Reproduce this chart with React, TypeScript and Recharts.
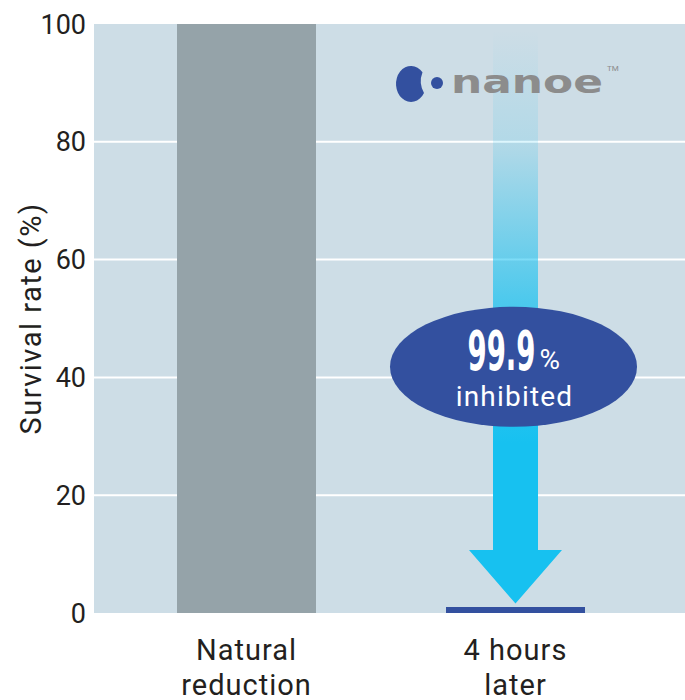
import { BarChart, Bar, Cell, XAxis, YAxis, CartesianGrid, ReferenceLine, ReferenceDot } from 'recharts';

const categories = ['Natural reduction', '4 hours later'];
const survivalRates = [100, 1];
const categoryLines = [
  ['Natural', 'reduction'],
  ['4 hours', 'later'],
];
const barColors = ['#95a3a9', '#33509f'];
const yTicks = [0, 20, 40, 60, 80, 100];
const gridValues = [20, 40, 60, 80];

// annotation anchors (in data units)
const arrowTop = 99;
const arrowTip = 1.6;
const badgeLevel = 41.8;
const logoLevel = 90;

const data = categories.map((name, i) => ({ name, value: survivalRates[i] }));

const FONT = 'Roboto, "Noto Sans", sans-serif';
const TEXT = '#231f20';

function CategoryTick({ x, y, payload }: any) {
  const idx = categories.indexOf(payload.value);
  const lines = categoryLines[idx] ?? [payload.value];
  return (
    <g>
      {lines.map((line, i) => (
        <text
          key={i}
          x={x}
          y={y + 39 + i * 35}
          textAnchor="middle"
          fontFamily={FONT}
          fontSize={29}
          letterSpacing={1}
          fill={TEXT}
        >
          {line}
        </text>
      ))}
    </g>
  );
}

function YLabel({ viewBox }: any) {
  const cx = viewBox.x + 31;
  const cy = viewBox.y + viewBox.height / 2;
  return (
    <text
      x={cx}
      y={cy}
      transform={`rotate(-90 ${cx} ${cy})`}
      textAnchor="middle"
      dominantBaseline="central"
      fontFamily={FONT}
      fontSize={29}
      letterSpacing={1.5}
      fill={TEXT}
    >
      Survival rate (%)
    </text>
  );
}

function Arrow(props: any) {
  const { x1, y1, y2 } = props;
  const shaft = 22.5;
  const head = 46.5;
  const headH = 53.5;
  const top = Math.min(y1, y2);
  const tip = Math.max(y1, y2);
  const base = tip - headH;
  const pts = [
    [x1 - shaft, top],
    [x1 + shaft, top],
    [x1 + shaft, base],
    [x1 + head, base],
    [x1, tip],
    [x1 - head, base],
    [x1 - shaft, base],
  ]
    .map((p) => p.join(','))
    .join(' ');
  return (
    <g>
      <defs>
        <linearGradient id="arrowFade" gradientUnits="userSpaceOnUse" x1={0} y1={top} x2={0} y2={tip}>
          <stop offset="0" stopColor="#17c1f0" stopOpacity={0} />
          <stop offset="0.2" stopColor="#17c1f0" stopOpacity={0.15} />
          <stop offset="0.47" stopColor="#17c1f0" stopOpacity={0.7} />
          <stop offset="0.72" stopColor="#17c1f0" stopOpacity={1} />
          <stop offset="1" stopColor="#17c1f0" stopOpacity={1} />
        </linearGradient>
      </defs>
      <polygon points={pts} fill="url(#arrowFade)" />
    </g>
  );
}

function Badge({ cx, cy }: any) {
  const x = cx - 2;
  return (
    <g>
      <ellipse cx={x} cy={cy} rx={123.5} ry={60} fill="#33509f" />
      <text
        x={x - 46}
        y={cy + 3}
        textLength={68}
        lengthAdjust="spacingAndGlyphs"
        fontFamily='"Liberation Sans Narrow", "DejaVu Sans Condensed", sans-serif'
        fontWeight={700}
        fontSize={55}
        fill="#ffffff"
      >
        99.9
      </text>
      <text x={x + 26} y={cy + 2} fontFamily={FONT} fontSize={28} fill="#ffffff">
        %
      </text>
      <text
        x={x + 1}
        y={cy + 39}
        textAnchor="middle"
        fontFamily={FONT}
        fontSize={28}
        letterSpacing={1.2}
        fill="#ffffff"
      >
        inhibited
      </text>
    </g>
  );
}

function NanoeLogo({ cx, cy }: any) {
  // bean-shaped blob with a shallow notch on its right side
  const ux = cx - 93;
  const uy = cy - 10.6;
  const lx = cx - 91.5;
  const ly = cy + 10;
  return (
    <g>
      <path
        d={`M ${ux} ${uy} A 15 18 0 1 0 ${lx} ${ly} A 24 24 0 0 1 ${ux} ${uy} Z`}
        fill="#33509f"
      />
      <circle cx={cx - 78.5} cy={cy} r={6} fill="#33509f" />
      <text
        x={cx - 64.5}
        y={cy + 10}
        textLength={152}
        lengthAdjust="spacingAndGlyphs"
        fontFamily='"DejaVu Sans", sans-serif'
        fontWeight={700}
        fontSize={32}
        fill="#8c8c8c"
      >
        nanoe
      </text>
      <text x={cx + 91.5} y={cy - 12} fontFamily={FONT} fontSize={8} fill="#8c8c8c">
        TM
      </text>
    </g>
  );
}

export default function App() {
  return (
    <div style={{ position: 'absolute', left: 0, top: 0, background: '#ffffff' }}>
      <BarChart width={685} height={700} data={data} margin={{ top: 24, right: 0, bottom: 0, left: 0 }}>
        <CartesianGrid
          vertical={false}
          horizontalValues={gridValues}
          fill="#cddde6"
          fillOpacity={1}
          stroke="#ffffff"
          strokeWidth={2}
        />
        <XAxis
          dataKey="name"
          axisLine={false}
          tickLine={false}
          height={87}
          interval={0}
          padding={{ left: 18, right: 35 }}
          tick={<CategoryTick />}
        />
        <YAxis
          type="number"
          domain={[0, 100]}
          ticks={yTicks}
          interval={0}
          axisLine={false}
          tickLine={false}
          width={94}
          tick={{ fontSize: 27, fill: TEXT, fontFamily: FONT }}
          label={<YLabel />}
        />
        <Bar dataKey="value" barSize={139} isAnimationActive={false}>
          {data.map((d, i) => (
            <Cell key={d.name} fill={barColors[i]} />
          ))}
        </Bar>
        <ReferenceLine
          segment={[
            { x: categories[1], y: arrowTop },
            { x: categories[1], y: arrowTip },
          ]}
          shape={<Arrow />}
        />
        <ReferenceDot x={categories[1]} y={badgeLevel} shape={<Badge />} />
        <ReferenceDot x={categories[1]} y={logoLevel} shape={<NanoeLogo />} />
      </BarChart>
    </div>
  );
}
